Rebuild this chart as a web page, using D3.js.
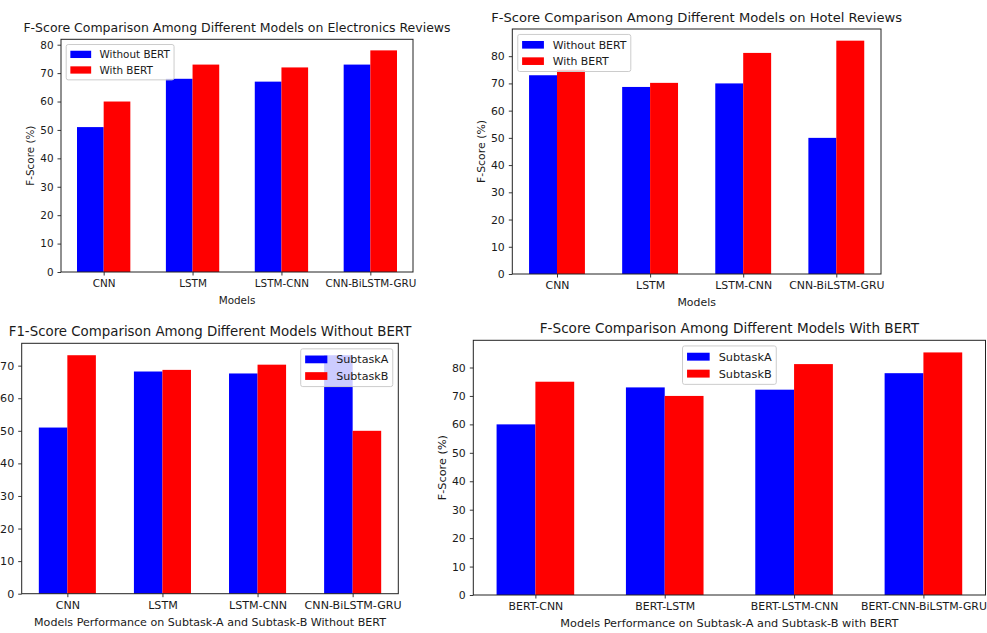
<!DOCTYPE html>
<html>
<head>
<meta charset="utf-8">
<script src="https://cdn.jsdelivr.net/npm/d3@7"></script>
<style>
  html, body { margin: 0; padding: 0; background: #ffffff; }
  svg { display: block; }
  text { font-family: "DejaVu Sans", sans-serif; fill: #1a1a1a; }
</style>
</head>
<body>
<svg id="chart" width="987" height="633"></svg>
<script>
// ---------- data ----------
const modelCats = ["CNN", "LSTM", "LSTM-CNN", "CNN-BiLSTM-GRU"];
const bertCats = ["BERT-CNN", "BERT-LSTM", "BERT-LSTM-CNN", "BERT-CNN-BiLSTM-GRU"];

const elecWithout = [51, 68, 67, 73];
const elecWith = [60, 73, 72, 78];

const hotelWithout = [73, 68.7, 70, 50];
const hotelWith = [75, 70.2, 81.2, 85.7];

const noBertSubA = [51, 68.2, 67.6, 73.2];
const noBertSubB = [73.2, 68.7, 70.3, 50];

const bertSubA = [60, 73, 72.2, 78];
const bertSubB = [75, 70, 81.2, 85.3];

const bertNames = ["Without BERT", "With BERT"];
const subtaskNames = ["SubtaskA", "SubtaskB"];
const yTickStep = 10;

// ---------- drawing ----------
const svg = d3.select("#chart");
const BLUE = "#0000ff", RED = "#ff0000";

function drawPanel(cfg) {
  const { cats, a, b, names, box, fs, titleFs, labelFs, title, xlabel, ylabel, legendLoc } = cfg;
  const g = svg.append("g");
  const n = cats.length;
  const w = 0.3;
  const span = n - 1 + 2 * w;
  const x = d3.scaleLinear().domain([-w - 0.05 * span, n - 1 + w + 0.05 * span])
    .range([box.l, box.r]);
  const ymax = d3.max(a.concat(b)) * 1.05;
  const y = d3.scaleLinear().domain([0, ymax]).range([box.b, box.t]);

  // bars
  g.append("g").selectAll("rect").data(a).join("rect")
    .attr("x", (d, i) => x(i - w)).attr("width", (d, i) => x(i) - x(i - w))
    .attr("y", d => y(d)).attr("height", d => y(0) - y(d))
    .attr("fill", BLUE);
  g.append("g").selectAll("rect").data(b).join("rect")
    .attr("x", (d, i) => x(i)).attr("width", (d, i) => x(i + w) - x(i))
    .attr("y", d => y(d)).attr("height", d => y(0) - y(d))
    .attr("fill", RED);

  // axes
  const xa = g.append("g").attr("transform", `translate(0,${box.b})`)
    .call(d3.axisBottom(x).tickValues(d3.range(n)).tickFormat(i => cats[i]).tickSize(3.5).tickPadding(4));
  const ya = g.append("g").attr("transform", `translate(${box.l},0)`)
    .call(d3.axisLeft(y).tickValues(d3.range(0, ymax, yTickStep)).tickFormat(d3.format("d")).tickSize(3.5).tickPadding(4));
  [xa, ya].forEach(ax => {
    ax.select(".domain").remove();
    ax.selectAll("line").attr("stroke", "#222").attr("stroke-width", 0.9);
    ax.selectAll("text").style("font-size", fs + "px").attr("fill", "#1a1a1a");
  });

  // frame
  g.append("rect").attr("x", box.l).attr("y", box.t)
    .attr("width", box.r - box.l).attr("height", box.b - box.t)
    .attr("fill", "none").attr("stroke", "#222").attr("stroke-width", 1);

  // title
  g.append("text").attr("x", (box.l + box.r) / 2).attr("y", box.t - 0.55 * titleFs)
    .attr("text-anchor", "middle").style("font-size", titleFs + "px").text(title);

  // x label
  g.append("text").attr("x", (box.l + box.r) / 2).attr("y", box.b + 28).attr("dy", "0.35em")
    .attr("text-anchor", "middle").style("font-size", labelFs + "px").text(xlabel);

  // y label
  if (ylabel) {
    g.append("text").attr("transform", `translate(${box.l - 31},${(box.t + box.b) / 2}) rotate(-90)`)
      .attr("dy", "0.35em").attr("text-anchor", "middle").style("font-size", labelFs + "px").text(ylabel);
  }

  // legend
  const lfs = labelFs;
  const pad = 0.4 * lfs, hl = 2 * lfs, hh = 0.7 * lfs, htp = 0.8 * lfs, rowH = 1.5 * lfs, axp = 0.5 * lfs;
  const lg = g.append("g");
  const frame = lg.append("rect");
  const labels = names.map((nm, i) => lg.append("text").style("font-size", lfs + "px")
    .attr("dy", "0.35em").text(nm));
  const tw = d3.max(labels, t => t.node().getComputedTextLength());
  const lw = pad * 2 + hl + htp + tw;
  const lh = pad * 2 + lfs * 1.05 * names.length + 0.5 * lfs * (names.length - 1);
  let lx;
  if (legendLoc === "left") lx = box.l + axp;
  else if (legendLoc === "right") lx = box.r - axp - lw;
  else lx = (box.l + box.r) / 2 - lw / 2;
  const ly = box.t + axp;
  frame.attr("x", lx).attr("y", ly).attr("width", lw).attr("height", lh)
    .attr("rx", 2).attr("fill", "#ffffff").attr("fill-opacity", 0.8)
    .attr("stroke", "#cccccc").attr("stroke-width", 1);
  [BLUE, RED].forEach((c, i) => {
    const cy = ly + pad + lfs * 0.55 + i * rowH;
    lg.append("rect").attr("x", lx + pad).attr("y", cy - hh / 2).attr("width", hl).attr("height", hh).attr("fill", c);
    labels[i].attr("x", lx + pad + hl + htp).attr("y", cy);
  });
}

drawPanel({
  cats: modelCats, a: elecWithout, b: elecWith, names: bertNames,
  box: { l: 61, r: 413, t: 39.3, b: 272 }, fs: 10.4, labelFs: 10.4, titleFs: 12.5,
  title: "F-Score Comparison Among Different Models on Electronics Reviews",
  xlabel: "Models", ylabel: "F-Score (%)", legendLoc: "left"
});
drawPanel({
  cats: modelCats, a: hotelWithout, b: hotelWith, names: bertNames,
  box: { l: 512.3, r: 881, t: 29, b: 274 }, fs: 10.9, labelFs: 10.9, titleFs: 13.1,
  title: "F-Score Comparison Among Different Models on Hotel Reviews",
  xlabel: "Models", ylabel: "F-Score (%)", legendLoc: "left"
});
drawPanel({
  cats: modelCats, a: noBertSubA, b: noBertSubB, names: subtaskNames,
  box: { l: 21.7, r: 398.3, t: 343.3, b: 593.7 }, fs: 11.1, labelFs: 11.1, titleFs: 13.35,
  title: "F1-Score Comparison Among Different Models Without BERT",
  xlabel: "Models Performance on Subtask-A and Subtask-B Without BERT", ylabel: null, legendLoc: "right"
});
drawPanel({
  cats: bertCats, a: bertSubA, b: bertSubB, names: subtaskNames,
  box: { l: 473.3, r: 985.5, t: 340.3, b: 595 }, fs: 10.9, labelFs: 11.3, titleFs: 13.6,
  title: "F-Score Comparison Among Different Models With BERT",
  xlabel: "Models Performance on Subtask-A and Subtask-B with BERT", ylabel: "F-Score (%)", legendLoc: "center"
});
</script>
</body>
</html>
